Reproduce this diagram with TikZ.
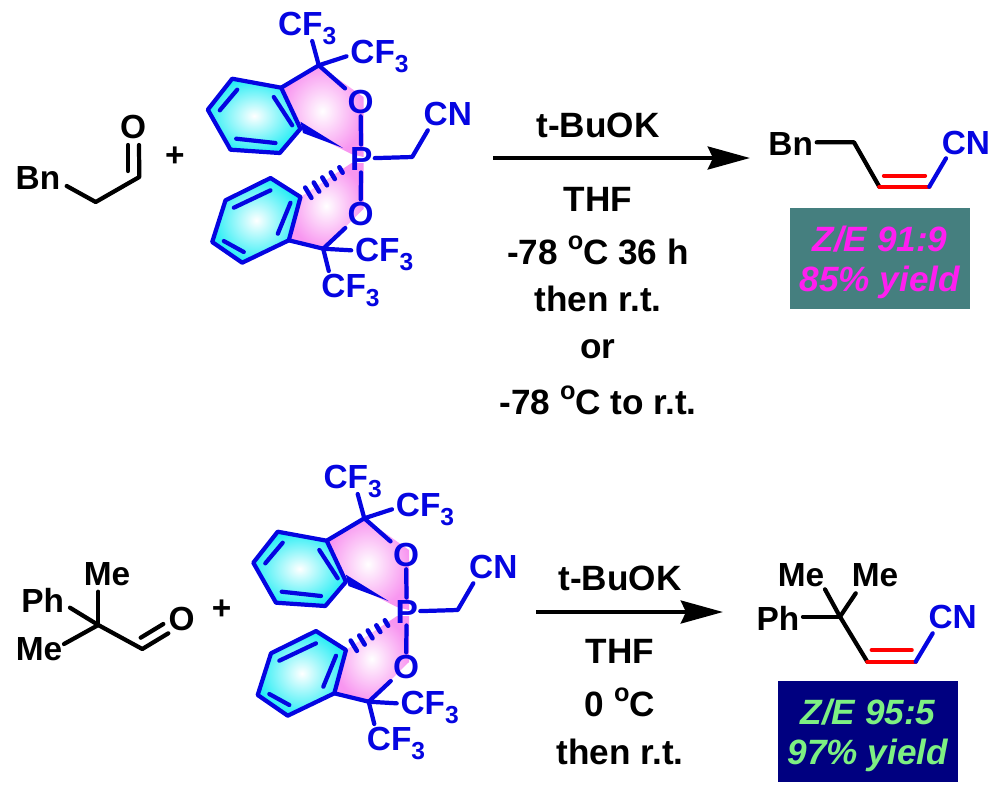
\documentclass[tikz,border=0pt]{standalone}
\usepackage{fontspec}
\setmainfont{Liberation Sans}
\usetikzlibrary{arrows.meta,calc}

\definecolor{bondblue}{RGB}{5,5,225}
\definecolor{ringcyan}{RGB}{40,238,245}
\definecolor{ringpink}{RGB}{248,150,240}
\definecolor{tealbox}{RGB}{69,127,127}
\definecolor{navybox}{RGB}{0,0,128}
\definecolor{yieldmagenta}{RGB}{255,30,240}
\definecolor{yieldgreen}{RGB}{125,240,130}

\newcommand{\cfthree}{CF\smash{\raisebox{-0.27em}{\fontsize{7}{7}\selectfont 3}}}
\newcommand{\dego}{\raisebox{0.42em}{\fontsize{7.2}{7}\selectfont o}}

\tikzset{
    bond/.style={line width=1.2pt, line cap=round, line join=round},
    atomlabel/.style={font=\fontsize{9.5}{11}\selectfont\bfseries, inner sep=0.5pt},
    condition/.style={font=\fontsize{10}{11}\selectfont\bfseries, inner sep=0pt},
    yieldbox/.style={font=\fontsize{10}{11.3}\selectfont\bfseries\itshape, align=center,
        minimum width=1.8cm, minimum height=1.013cm, inner sep=0pt},
    reaction/.style={line width=1.2pt, -{Stealth[length=12pt, width=6.5pt, inset=1.5pt]}},
    phosphorane/.pic={
        % Upper benzo ring
        \coordinate (R1) at (-79.3, -69.3);
        \coordinate (R2) at (-60, -28.3);
        \coordinate (R3) at (-80.7, -4);
        \coordinate (R4) at (-130, -7.3);
        \coordinate (R5) at (-152.7, -47.3);
        \coordinate (R6) at (-128.3, -78.3);
        % Lower benzo ring
        \coordinate (S1) at (-60, 40);
        \coordinate (S2) at (-90, 21);
        \coordinate (S3) at (-135, 43.3);
        \coordinate (S4) at (-148.3, 85);
        \coordinate (S5) at (-118.3, 105.7);
        \coordinate (S6) at (-71.7, 83.3);
        % Carbons that carry the two CF3 groups
        \coordinate (C1) at (-41.7, -91.7);
        \coordinate (C2) at (-37.3, 91.7);
        % Free ends of the bonds to the labels
        \coordinate (E1) at (-48.3, -116);
        \coordinate (E2) at (-14, -100.7);
        \coordinate (E3) at (-9.3, 93.3);
        \coordinate (E4) at (-31.7, 114);
        \coordinate (E5) at (67.3, -26.7);
        \coordinate (M) at (51.7, 0);
        % Wedge tip, first and last bar of the hashed bond
        \coordinate (W) at (-17.5, -9);
        \coordinate (G) at (-52.2, 35.7);
        \coordinate (H) at (-19.5, 13);

        % Shaded rings
        \shade[inner color=white, outer color=ringpink]
            (R1) -- (C1) -- (3, -60) -- (3, 0) -- (-9, -3) -- (R2) -- cycle;
        \shade[inner color=white, outer color=ringpink]
            (S1) -- (-9, 6) -- (3, 6) -- (3, 52) -- (C2) -- (S6) -- cycle;
        \shade[inner color=white, outer color=ringcyan]
            (R1) -- (R2) -- (R3) -- (R4) -- (R5) -- (R6) -- cycle;
        \shade[inner color=white, outer color=ringcyan]
            (S1) -- (S2) -- (S3) -- (S4) -- (S5) -- (S6) -- cycle;

        \node[atomlabel, bondblue] (P) at (0.7, 1.5) {P};
        \node[atomlabel, bondblue] (O1) at (0, -55) {O};
        \node[atomlabel, bondblue] (O2) at (0, 56.7) {O};
        \node[atomlabel, bondblue] (CF1) at (-53.3, -133.3) {\cfthree};
        \node[atomlabel, bondblue] (CF2) at (19, -105) {\cfthree};
        \node[atomlabel, bondblue] (CF3) at (23.7, 93.3) {\cfthree};
        \node[atomlabel, bondblue] (CF4) at (-10, 129.3) {\cfthree};
        \node[atomlabel, bondblue] (CN) at (87.3, -43.3) {CN};

        \begin{scope}[bond, bondblue]
            \draw (R1) -- (R2) -- (R3) -- (R4) -- (R5) -- (R6) -- cycle;
            \draw (-86.7, -60) -- (-68.3, -31.7);
            \draw (-124.3, -18.3) -- (-85, -14);
            \draw (-140.7, -46.7) -- (-123.3, -67.3);

            \draw (S1) -- (S2) -- (S3) -- (S4) -- (S5) -- (S6) -- cycle;
            \draw (-70, 45.7) -- (-82.7, 76.7);
            \draw (-126.7, 50.7) -- (-90, 33.3);
            \draw (-136.7, 84) -- (-116.7, 95);

            \draw (R1) -- (C1) -- (O1);
            \draw (S6) -- (C2) -- (O2);
            \draw (O1) -- (P) -- (O2);
            \draw (C1) -- (E1);
            \draw (C1) -- (E2);
            \draw (C2) -- (E3);
            \draw (C2) -- (E4);
            \draw (P) -- (M) -- (E5);
        \end{scope}

        % Wedge and hashed bond
        \fill[bondblue] (W) -- (-60, -35.3) -- (-57.5, -24) -- cycle;
        \foreach \t/\w in {0/6, 0.25/5.3, 0.5/4.6, 0.75/3.9, 1/3.2} {
            \draw[line width=1.3pt, line cap=round, bondblue]
                ($(G)!\t!(H) + (0.515*\w, 0.857*\w)$) -- ($(G)!\t!(H) - (0.515*\w, 0.857*\w)$);
        }
    }
}

\begin{document}
\begin{tikzpicture}[x=0.01cm, y=-0.01cm]
    \useasboundingbox (0, 0) rectangle (996, 790);

    % First reaction: aldehyde
    \node[atomlabel] (Bn1) at (38, 178) {Bn};
    \node[atomlabel] (O1) at (133, 127) {O};
    \node[atomlabel] (plus1) at (175, 157) {+};
    \coordinate (A1) at (66.7, 186);
    \coordinate (A2) at (95.7, 202);
    \coordinate (A3) at (139.3, 177);
    \coordinate (A4) at (128, 145);
    \coordinate (A5) at (128, 171);
    \coordinate (A6) at (139, 145);
    \draw[bond] (A1) -- (A2) -- (A3) -- (A6);
    \draw[bond] (A4) -- (A5);

    \pic (first) at (360.5, 157) {phosphorane};

    % First reaction: arrow and conditions
    \coordinate (arrow1a) at (493, 158);
    \coordinate (arrow1b) at (750, 158);
    \draw[reaction] (arrow1a) -- (arrow1b);
    \node[condition] (base1) at (598, 125) {t-BuOK};
    \node[condition] (solv1) at (598, 199) {THF};
    \node[condition] (temp1) at (598, 250) {-78 \dego C 36 h};
    \node[condition] (then1) at (598, 299) {then r.t.};
    \node[condition] (or1) at (598, 349) {or};
    \node[condition] (temp2) at (598, 400) {-78 \dego C to r.t.};

    % First reaction: product
    \node[atomlabel] (Bn2) at (790.7, 144) {Bn};
    \node[atomlabel, bondblue] (CN1) at (966, 143) {CN};
    \coordinate (B1) at (816.7, 142.3);
    \coordinate (B2) at (854, 142.3);
    \coordinate (B3) at (879.3, 186.7);
    \coordinate (B4) at (929.3, 186.7);
    \coordinate (B5) at (946, 158.3);
    \coordinate (B6) at (884, 175.7);
    \coordinate (B7) at (925, 175.7);
    \draw[bond] (B1) -- (B2) -- (B3);
    \draw[bond, red] (B3) -- (B4);
    \draw[bond, red] (B6) -- (B7);
    \draw[bond, bondblue] (B4) -- (B5);
    \node[yieldbox, fill=tealbox, text=yieldmagenta] (yield1) at (880, 258.5) {Z/E 91:9\\\smash{85\% yield}};

    % Second reaction: aldehyde
    \node[atomlabel] (Me1) at (107, 574) {Me};
    \node[atomlabel] (Ph1) at (42.7, 600) {Ph};
    \node[atomlabel] (Me2) at (39, 649) {Me};
    \node[atomlabel] (O2) at (181.7, 619.3) {O};
    \node[atomlabel] (plus2) at (221.7, 609.3) {+};
    \coordinate (D0) at (98.3, 625);
    \coordinate (D1) at (98.3, 591.7);
    \coordinate (D2) at (70, 607.7);
    \coordinate (D3) at (64, 644);
    \coordinate (D4) at (142.3, 649);
    \coordinate (D5) at (168.3, 633.3);
    \coordinate (D6) at (140.7, 637.7);
    \coordinate (D7) at (163.3, 624);
    \draw[bond] (D1) -- (D0);
    \draw[bond] (D2) -- (D0);
    \draw[bond] (D3) -- (D0);
    \draw[bond] (D0) -- (D4) -- (D5);
    \draw[bond] (D6) -- (D7);

    \pic (second) at (406, 610) {phosphorane};

    % Second reaction: arrow and conditions
    \coordinate (arrow2a) at (536, 612);
    \coordinate (arrow2b) at (723, 612);
    \draw[reaction] (arrow2a) -- (arrow2b);
    \node[condition] (base2) at (620, 578) {t-BuOK};
    \node[condition] (solv2) at (620, 651) {THF};
    \node[condition] (temp3) at (620, 702) {0 \dego C};
    \node[condition] (then2) at (620, 752) {then r.t.};

    % Second reaction: product
    \node[atomlabel] (Ph2) at (778, 618) {Ph};
    \node[atomlabel] (Me3) at (801, 575) {Me};
    \node[atomlabel] (Me4) at (875, 575) {Me};
    \node[atomlabel, bondblue] (CN2) at (952.7, 616.7) {CN};
    \coordinate (F0) at (840, 616.7);
    \coordinate (F1) at (803, 616.7);
    \coordinate (F2) at (825, 589.3);
    \coordinate (F3) at (855.7, 593.3);
    \coordinate (F4) at (867.3, 661.7);
    \coordinate (F5) at (915.7, 661.7);
    \coordinate (F6) at (932.7, 633.3);
    \coordinate (F7) at (871.7, 650);
    \coordinate (F8) at (911.7, 650);
    \draw[bond] (F1) -- (F0);
    \draw[bond] (F2) -- (F0);
    \draw[bond] (F3) -- (F0);
    \draw[bond] (F0) -- (F4);
    \draw[bond, red] (F4) -- (F5);
    \draw[bond, red] (F7) -- (F8);
    \draw[bond, bondblue] (F5) -- (F6);
    \node[yieldbox, fill=navybox, text=yieldgreen] (yield2) at (868, 731.5) {Z/E 95:5\\\smash{97\% yield}};
\end{tikzpicture}
\end{document}
